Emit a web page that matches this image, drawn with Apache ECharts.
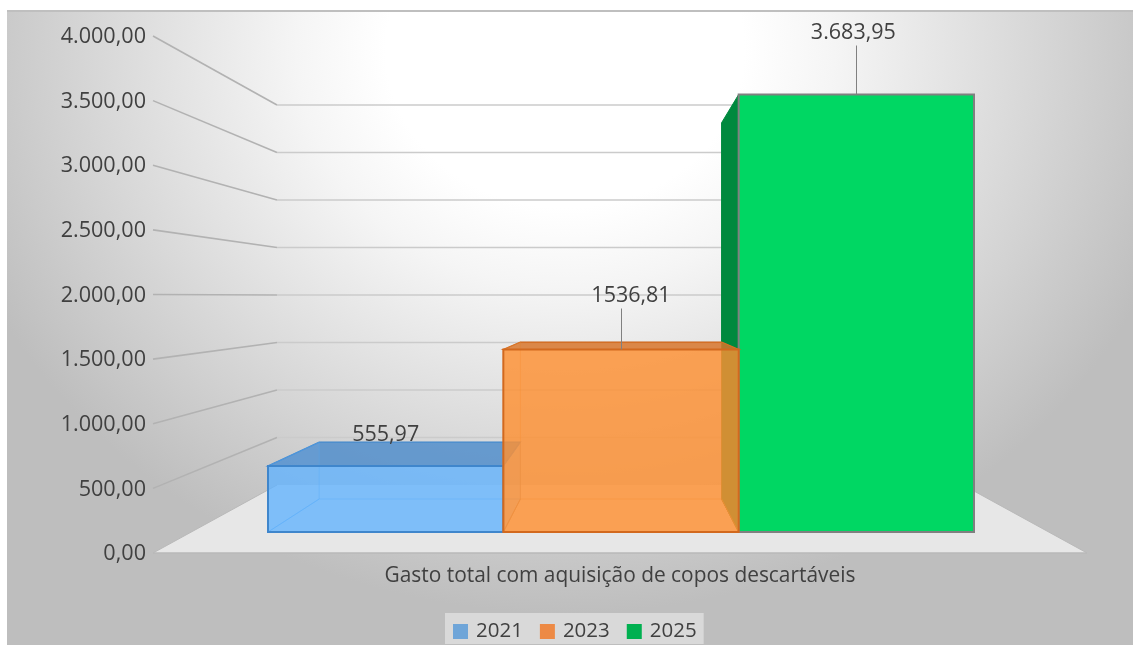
<!DOCTYPE html>
<html><head><meta charset="utf-8">
<style>html,body{margin:0;padding:0;background:#fff}#c{width:1133px;height:645px}</style>
<script src="https://cdn.jsdelivr.net/npm/echarts@6/dist/echarts.min.js"></script>
</head><body><div id="c"></div>
<script>
const categories = ['Gasto total com aquisição de copos descartáveis'];
const seriesNames = ['2021', '2023', '2025'];
const values2021 = [555.97];
const values2023 = [1536.81];
const values2025 = [3683.95];
const valueLabels = ['555,97', '1536,81', '3.683,95'];
const tickValues = [0, 500, 1000, 1500, 2000, 2500, 3000, 3500, 4000];

const FONT = '"Open Sans","Noto Sans",sans-serif';
const TEXT = '#404040';

// perspective of the bar box: front plane -> back plane
const barBack = (p) => [621 + (p[0] - 621) * 0.855, 499 + (p[1] - 532) * 0.86];
// perspective of the chart box: front plane -> back wall
const wallBack = (p) => [620 + (p[0] - 620) * 0.7345, 485 + (p[1] - 553) * 0.735];

const barStyles = [
  { legend: '#6fa5d8', front: 'rgba(95,178,255,0.73)', top: 'rgba(70,135,200,0.75)', side: 'rgba(91,173,255,0.14)', inner: 'rgba(90,165,235,0.5)', edge: '#3f86cc', edgeW: 2, z: 5 },
  { legend: '#ed8a45', front: 'rgba(255,145,50,0.78)', top: 'rgba(215,115,40,0.8)', side: 'rgba(225,125,50,0.18)', inner: 'rgba(225,130,50,0.4)', edge: '#d2691e', edgeW: 2, z: 7 },
  { legend: '#00b050', front: '#00d763', top: null, side: '#00893e', inner: '#00893e', edge: '#808080', edgeW: 2, z: 6 }
];
// label placement relative to the bar's top-centre, leader as [from, to]
const labelPlacement = [
  { dx: 0, dy: -31, leader: null },
  { dx: 10, dy: -54, leader: [-41, 0] },
  { dx: -3, dy: -62, leader: [-49, 0] }
];

function poly(points, fill, stroke, lw) {
  return { type: 'polygon', shape: { points }, style: { fill: fill || 'none', stroke: stroke || 'none', lineWidth: lw || 0 } };
}

function barRenderer(i) {
  return function (params, api) {
    const band = api.size([1, 0])[0];
    const w = band / seriesNames.length;
    const center = api.coord([0, 0])[0];
    const x0 = center - band / 2 + i * w, x1 = x0 + w;
    const yBase = api.coord([0, 0])[1];
    const yTop = api.coord([0, api.value(1)])[1];
    const s = barStyles[i], ch = [];
    const fl = [x0, yBase], fr = [x1, yBase], tl = [x0, yTop], tr = [x1, yTop];
    const bl = barBack(fl), br = barBack(fr), btl = barBack(tl), btr = barBack(tr);
    ch.push(poly([btl, btr, br, bl], s.side));
    if (s.top) ch.push(poly([tl, tr, btr, btl], s.top, s.edge, 1.2));
    ch.push(poly([tl, btl, bl, fl], s.side, s.inner, 1));
    ch.push(poly([tr, btr, br, fr], s.side, s.inner, 1));
    ch.push(poly([fl, fr, br, bl], s.side, s.inner, 1));
    ch.push(poly([tl, tr, fr, fl], s.front, s.edge, s.edgeW));
    const p = labelPlacement[i], cx = (x0 + x1) / 2;
    if (p.leader) {
      ch.push({ type: 'line', shape: { x1: Math.round(cx) + 0.5, y1: yTop + p.leader[0], x2: Math.round(cx) + 0.5, y2: yTop + p.leader[1] }, style: { stroke: '#808080', lineWidth: 1 } });
    }
    ch.push({ type: 'text', style: { x: cx + p.dx, y: yTop + p.dy, text: valueLabels[i], fill: TEXT, font: '21.5px ' + FONT, align: 'center', verticalAlign: 'middle' } });
    return { type: 'group', children: ch };
  };
}

function barSeries(i, values) {
  return {
    type: 'custom', name: seriesNames[i], xAxisIndex: 1, yAxisIndex: 1, z: barStyles[i].z,
    coordinateSystem: 'cartesian2d', clip: false, silent: true,
    itemStyle: { color: barStyles[i].legend },
    encode: { x: 0, y: 1 },
    data: values.map((v) => [0, v]),
    renderItem: barRenderer(i)
  };
}

const floorSeries = {
  type: 'custom', xAxisIndex: 0, yAxisIndex: 0, z: 2, silent: true, clip: false,
  encode: { x: 0, y: 1 }, data: [[0, 0]],
  renderItem(params, api) {
    const c = params.coordSys, y = api.coord([0, api.value(1)])[1];
    const a = [c.x, y], b = [c.x + c.width, y];
    return { type: 'group', children: [
      poly([a, b, wallBack(b), wallBack(a)], '#e7e7e7'),
      { type: 'line', shape: { x1: a[0], y1: a[1], x2: b[0], y2: b[1] }, style: { stroke: '#b9b9b9', lineWidth: 1.4 } },
      { type: 'line', shape: { x1: a[0], y1: a[1], x2: wallBack(a)[0], y2: wallBack(a)[1] }, style: { stroke: '#b9b9b9', lineWidth: 1 } },
      { type: 'line', shape: { x1: b[0], y1: b[1], x2: wallBack(b)[0], y2: wallBack(b)[1] }, style: { stroke: '#b9b9b9', lineWidth: 1 } }
    ] };
  }
};

const wallSeries = {
  type: 'custom', xAxisIndex: 0, yAxisIndex: 0, z: 3, silent: true, clip: false,
  encode: { x: 0, y: 1 }, data: tickValues.filter((v) => v > 0).map((v) => [0, v]),
  renderItem(params, api) {
    const c = params.coordSys, y = api.coord([0, api.value(1)])[1];
    const a = [c.x, y], b = [c.x + c.width, y], ba = wallBack(a), bb = wallBack(b);
    return { type: 'group', children: [
      { type: 'line', shape: { x1: a[0], y1: a[1], x2: ba[0], y2: ba[1] }, style: { stroke: '#b2b2b2', lineWidth: 1.6 } },
      { type: 'line', shape: { x1: ba[0], y1: ba[1], x2: bb[0], y2: bb[1] }, style: { stroke: '#cbcbcb', lineWidth: 1.3 } }
    ] };
  }
};

const chart = echarts.init(document.getElementById('c'), null, { renderer: 'canvas' });
const k = 0.88, cy = 50;
chart.setOption({
  animation: false,
  backgroundColor: '#ffffff',
  graphic: { elements: [
    { type: 'rect', silent: true, z: -10, x: 7, y: 10, scaleY: k,
      shape: { x: 0, y: 0, width: 1126, height: 635 / k },
      style: { fill: new echarts.graphic.RadialGradient(558, (cy - 10) / k, 640, [
        { offset: 0, color: '#ffffff' }, { offset: 0.28, color: '#ffffff' }, { offset: 0.42, color: '#f5f5f5' }, { offset: 1, color: '#bebebe' }
      ], true) } },
    { type: 'rect', silent: true, z: -9, shape: { x: 7, y: 10, width: 1126, height: 2 }, style: { fill: '#bfbfbf' } }
  ] },
  grid: [
    { left: 153, top: 36, width: 934, height: 517 },
    { left: 268, top: 57, width: 706, height: 475 }
  ],
  xAxis: [
    { gridIndex: 0, type: 'category', data: categories, axisLine: { show: false }, axisTick: { show: false },
      axisLabel: { color: TEXT, fontFamily: FONT, fontSize: 20.9, margin: 13 } },
    { gridIndex: 1, type: 'category', data: categories, show: false }
  ],
  yAxis: [
    { gridIndex: 0, type: 'value', min: 0, max: 4000, interval: 500, splitLine: { show: false }, axisLine: { show: false }, axisTick: { show: false },
      axisLabel: { color: TEXT, fontFamily: FONT, fontSize: 21.6, margin: 7, verticalAlign: 'top', lineHeight: 2,
        formatter: (v) => String(v).replace(/\B(?=(\d{3})+$)/g, '.') + ',00' } },
    { gridIndex: 1, type: 'value', min: 0, max: 4000, show: false, splitLine: { show: false } }
  ],
  legend: {
    data: seriesNames, left: 445, top: 613, padding: [8, 7, 2, 8], backgroundColor: '#d9d9d9', icon: 'rect',
    itemWidth: 15, itemHeight: 15, itemGap: 17, selectedMode: false,
    textStyle: { color: TEXT, fontFamily: FONT, fontSize: 20.5, padding: [0, 0, 0, 3] }
  },
  series: [floorSeries, wallSeries,
    barSeries(0, values2021), barSeries(1, values2023), barSeries(2, values2025)]
});
</script></body></html>
